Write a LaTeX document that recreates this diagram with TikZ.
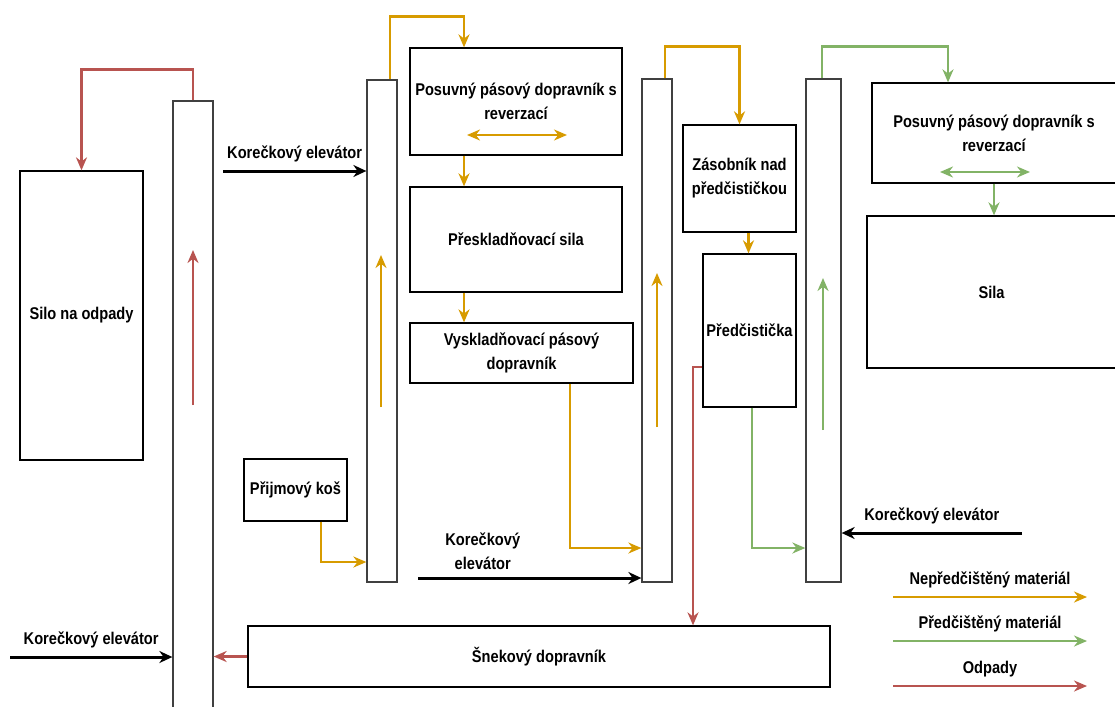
\documentclass[tikz,border=0pt]{standalone}
\usepackage{fontspec}
\setmainfont{Liberation Sans}[FakeStretch=0.86]
\usetikzlibrary{arrows.meta,positioning}
\definecolor{unpColor}{HTML}{D79B00}
\definecolor{preColor}{HTML}{82B366}
\definecolor{wasteColor}{HTML}{B85450}
\begin{document}
\begin{tikzpicture}
     [x=1pt, y=-1pt, font=\bfseries\fontsize{17}{24}\selectfont,
      box/.style={rectangle,draw,line width=1.3pt,align=center,inner sep=2pt},
      shaft/.style={rectangle,draw=black!75,line width=1.3pt,inner sep=0pt},
      feed/.style={line width=3pt,-{Stealth[length=13pt,width=12pt]}},
      unp/.style={draw=unpColor,line width=2.4pt,-{Stealth[length=13pt,width=11pt]}},
      pre/.style={draw=preColor,line width=2.4pt,-{Stealth[length=13pt,width=11pt]}},
      waste/.style={draw=wasteColor,line width=2.4pt,-{Stealth[length=13pt,width=11pt]}},
      twoway/.style={{Stealth[length=13pt,width=11pt]}-{Stealth[length=13pt,width=11pt]}},
      lbl/.style={above=4pt,align=center}]
     \useasboundingbox (0,0) rectangle (1115,706);

     % elevator shafts
     \node[shaft, minimum width=40, minimum height=619] (e1) at (193,410.5) {};
     \node[shaft, minimum width=30, minimum height=502] (e2) at (382,331) {};
     \node[shaft, minimum width=30, minimum height=503] (e3) at (657,330.5) {};
     \node[shaft, minimum width=35, minimum height=503] (e4) at (823.5,330.5) {};

     % boxes
     \node[box, minimum width=123, minimum height=289] (silo) at (81.5,315.5) {Silo na odpady};
     \node[box, minimum width=212, minimum height=107] (pos1) at (516,101.5) {Posuvný pásový dopravník s\\reverzací};
     \node[box, minimum width=212, minimum height=105] (presk) at (516,239.5) {Přeskladňovací sila};
     \node[box, minimum width=223, minimum height=60] (vysk) at (521.5,353) {Vyskladňovací pásový\\dopravník};
     \node[box, minimum width=103, minimum height=62] (prij) at (295.5,490) {Přijmový koš};
     \node[box, minimum width=113, minimum height=107] (zas) at (739.5,178.5) {Zásobník nad\\předčističkou};
     \node[box, minimum width=93, minimum height=153] (pred) at (749.5,330.5) {Předčistička};
     \node[box, minimum width=244, minimum height=100] (pos2) at (994,133) {Posuvný pásový dopravník s\\reverzací};
     \node[box, minimum width=249, minimum height=152] (sila) at (991.5,292) {Sila};
     \node[box, minimum width=582, minimum height=61] (snek) at (539,656.5) {Šnekový dopravník};

     % free ends
     \coordinate (in1) at (223,171);
     \coordinate (in2) at (418,578);
     \coordinate (in3) at (1022,533);
     \coordinate (in4) at (10,657);
     \coordinate (e1lo) at (193,405);
     \coordinate (e1hi) at (193,250);
     \coordinate (e2lo) at (381,407);
     \coordinate (e2hi) at (381,255);
     \coordinate (e3lo) at (657,427);
     \coordinate (e3hi) at (657,273);
     \coordinate (e4lo) at (823,430);
     \coordinate (e4hi) at (823,278);

     % bucket elevator feeds
     \draw[feed] (in1) -- node[lbl] {Korečkový elevátor} (in1 -| e2.west);
     \draw[feed] (in2) -- node[lbl, pos=0.29] {Korečkový\\elevátor} (in2 -| e3.west);
     \draw[feed] (in3) -- node[lbl] {Korečkový elevátor} (in3 -| e4.east);
     \draw[feed] (in4) -- node[lbl] {Korečkový elevátor} (in4 -| e1.west);

     % unclean material
     \draw[unp] (e2lo) -- (e2hi);
     \draw[unp] ([xshift=8pt]e2.north) -- ++(0,-63) -| ([xshift=-52pt]pos1.north);
     \draw[unp, twoway] ([xshift=-49pt,yshift=-33.5pt]pos1.center) -- ([xshift=51pt,yshift=-33.5pt]pos1.center);
     \draw[unp] ([xshift=-52pt]pos1.south) -- ([xshift=-52pt]presk.north);
     \draw[unp] ([xshift=-52pt]presk.south) -- ([xshift=-52pt]presk.south |- vysk.north);
     \draw[unp] ([xshift=25.5pt]prij.south) |- (e2.west |- 0,562);
     \draw[unp] ([xshift=48.5pt]vysk.south) |- (e3.west |- 0,548);
     \draw[unp] (e3lo) -- (e3hi);
     \draw[unp] ([xshift=8pt]e3.north) -- ++(0,-32) -| (zas.north);
     \draw[unp] ([xshift=-1pt]pred.north |- zas.south) -- ([xshift=-1pt]pred.north);

     % cleaned material
     \draw[pre] ([xshift=2.5pt]pred.south) |- (e4.west |- 0,548);
     \draw[pre] (e4lo) -- (e4hi);
     \draw[pre] ([xshift=-1.5pt]e4.north) -- ++(0,-32) -| ([xshift=-46pt]pos2.north);
     \draw[pre, twoway] ([xshift=-54pt,yshift=-39pt]pos2.center) -- ([xshift=36pt,yshift=-39pt]pos2.center);
     \draw[pre] (pos2.south) -- (pos2.south |- sila.north);

     % waste
     \draw[waste] (pred.west |- 0,367) -| (snek.north -| 693,0);
     \draw[waste] (snek.west) -- (snek.west -| e1.east);
     \draw[waste] (e1lo) -- (e1hi);
     \draw[waste] (e1.north) -- ++(0,-31) -| (silo.north);

     % legend
     \coordinate (lg1) at (893,597);
     \coordinate (lg2) at (893,641);
     \coordinate (lg3) at (893,686);
     \draw[unp] (lg1) -- node[lbl] {Nepředčištěný materiál} ++(194,0) coordinate (lg1e);
     \draw[pre] (lg2) -- node[lbl] {Předčištěný materiál} ++(194,0) coordinate (lg2e);
     \draw[waste] (lg3) -- node[lbl] {Odpady} ++(194,0) coordinate (lg3e);
\end{tikzpicture}
\end{document}
